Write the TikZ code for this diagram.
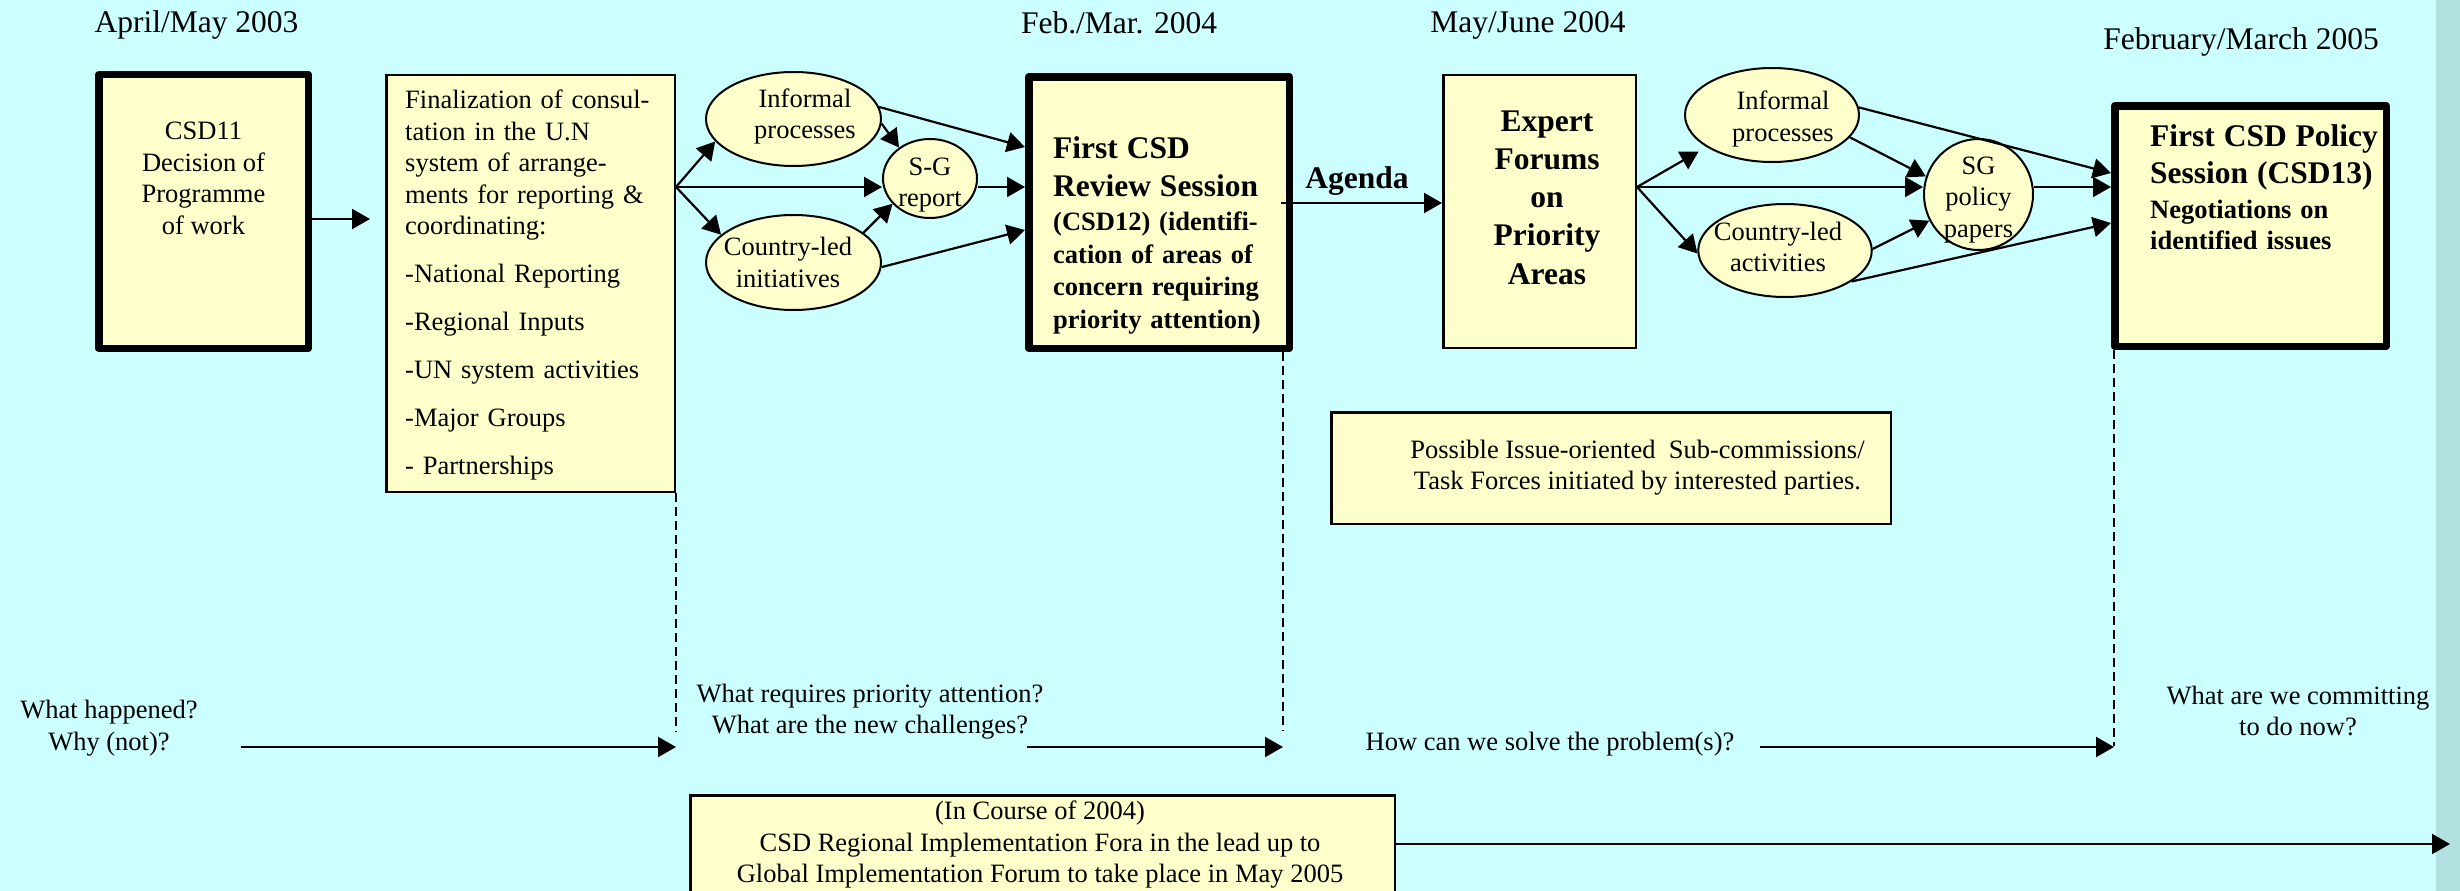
\documentclass[tikz,border=0pt]{standalone}
\usepackage{fontspec}
\setmainfont{Liberation Serif}
\usetikzlibrary{arrows.meta,shapes.geometric}
\definecolor{bgc}{HTML}{CCFFFF}
\definecolor{fillY}{HTML}{FFFFCC}
\definecolor{stripc}{HTML}{B3E0E0}
\begin{document}
\begin{tikzpicture}[x=1pt,y=-1pt,
  thinbox/.style={draw=black, line width=2.5pt, fill=fillY, rectangle, inner sep=0pt},
  thickbox/.style={draw=black, line width=7.5pt, fill=fillY, rectangle, inner sep=0pt, line join=round},
  ell/.style={draw=black, line width=2pt, fill=fillY, ellipse, inner sep=0pt},
  txt/.style={inner sep=0pt, align=center, font=\fontsize{26.5}{31.5}\selectfont},
  datelbl/.style={inner sep=0pt, anchor=base, font=\fontsize{31.5}{38}\selectfont},
  arr/.style={line width=2.2pt, -{Triangle[length=18pt,width=20pt]}},
  dsh/.style={line width=1.5pt, dash pattern=on 9pt off 5pt}]
\useasboundingbox (0,0) rectangle (2460,891);
\clip (0,0) rectangle (2460,891);
\fill[bgc] (0,0) rectangle (2460,891);
\fill[stripc] (2436,0) rectangle (2460,891);

% date labels
\node[datelbl] (d1) at (196.5,33) {April/May 2003};
\node[datelbl] (d2) at (1119,34) {Feb./Mar. 2004};
\node[datelbl] (d3) at (1528,33) {May/June 2004};
\node[datelbl] (d4) at (2241,50) {February/March 2005};

% boxes
\node[thickbox, minimum width=209.5pt, minimum height=273.5pt] (csd11) at (203.5,211.5) {};
\node[txt] (csd11t) at (203.5,178.5) {CSD11\\Decision of\\Programme\\of work};

\node[thinbox, minimum width=288.5pt, minimum height=416.5pt] (fin) at (530.5,283.5) {};
\node[txt, align=left, text width=262pt, anchor=west] (fint) at (405,285)
  {Finalization of consul-\\tation in the U.N\\system of arrange-\\ments for reporting \&\\coordinating:\\[16.5pt]-National Reporting\\[16.5pt]-Regional Inputs\\[16.5pt]-UN system activities\\[16.5pt]-Major Groups\\[16.5pt]- Partnerships};

\node[thickbox, minimum width=260.5pt, minimum height=271.5pt] (csd12) at (1159,212.5) {};
\node[txt, align=left, text width=236pt, anchor=west, font={\fontsize{26.5}{32.5}\selectfont\bfseries}] (csd12t) at (1053,235.5)
  {{\fontsize{31.5}{38}\selectfont First CSD\\Review Session\par}\vspace{1.5pt}{\fontsize{26.5}{32.5}\selectfont (CSD12) (identifi-\\cation of areas of\\concern requiring\\priority attention)\par}};

\node[thinbox, minimum width=192.5pt, minimum height=272.5pt] (expert) at (1539.5,211.5) {};
\node[txt, font={\fontsize{31.5}{38.3}\selectfont\bfseries}] (expertt) at (1547,197.5) {Expert\\Forums\\on\\Priority\\Areas};

\node[thickbox, minimum width=271.5pt, minimum height=240.5pt] (csd13) at (2250.5,226) {};
\node[txt, align=left, text width=236pt, anchor=west, font={\fontsize{26.5}{31}\selectfont\bfseries}] (csd13t) at (2150,187)
  {{\fontsize{31.5}{37}\selectfont First CSD Policy\\Session (CSD13)\par}\vspace{4pt}{\fontsize{26.5}{31}\selectfont Negotiations on\\identified issues\par}};

\node[thinbox, minimum width=559.5pt, minimum height=111.5pt] (poss) at (1611,468) {};
\node[txt] (posst) at (1637.5,467.5) {Possible Issue-oriented\ \ Sub-commissions/\\Task Forces initiated by interested parties.};

\node[thinbox, minimum width=704.5pt, minimum height=97.5pt] (bot) at (1042.5,844) {};
\node[txt] (bott) at (1040,845) {(In Course of 2004)\\CSD Regional Implementation Fora in the lead up to\\Global Implementation Forum to take place in May 2005};

% ellipses
\node[ell, minimum width=175pt, minimum height=94pt, label={[txt,xshift=11.5pt,yshift=2.5pt]center:Informal\\processes}] (inf1) at (793.5,119) {};
\node[ell, minimum width=175pt, minimum height=95pt, label={[txt,xshift=-5.5pt]center:Country-led\\initiatives}] (cl1) at (793.5,262.5) {};
\node[ell, minimum width=94pt, minimum height=79pt, label={[txt,yshift=-6.5pt]center:S-G\\report}] (sg1) at (930,178.5) {};
\node[ell, minimum width=174pt, minimum height=94pt, label={[txt,xshift=11pt,yshift=-4pt]center:Informal\\processes}] (inf2) at (1772,115) {};
\node[ell, minimum width=173.5pt, minimum height=93pt, label={[txt,xshift=-7pt,yshift=3.5pt]center:Country-led\\activities}] (cl2) at (1785,250.5) {};
\node[ell, minimum width=109pt, minimum height=111pt, label={[txt,yshift=-5.5pt]center:SG\\policy\\papers}] (sg2) at (1978.5,194.5) {};

\coordinate (br1) at (676,187);
\coordinate (br2) at (1637,187);

% left group arrows
\draw[arr, shorten >=15pt] ([yshift=-7.5pt]csd11.east) coordinate (c11) -- (c11 -| fin.west);
\draw[arr] (br1) -- (inf1.196);
\draw[arr] (br1) -- (br1 -| sg1.west);
\draw[arr] (br1) -- (cl1.159);
\draw[arr] (inf1.8) -- ([yshift=65.5pt]csd12.west);
\draw[arr] (inf1.357) -- (sg1.135);
\draw[arr] (br1 -| sg1.east) -- (br1 -| csd12.west);
\draw[arr] (cl1.23) -- (sg1.214);
\draw[arr] (cl1.357) -- ([yshift=-17.5pt]csd12.west);

% agenda
\draw[arr] ([xshift=-12pt,yshift=9.5pt]csd12.east) coordinate (ag) -- (ag -| expert.west);
\node[txt, anchor=base, font={\fontsize{31.5}{38}\selectfont\bfseries}] (agenda) at (1357,188) {Agenda};

% right group arrows
\draw[arr, shorten >=9pt] (br2) -- (inf2.206);
\draw[arr] (br2) -- (br2 -| sg2.west);
\draw[arr] (br2) -- (cl2.182);
\draw[arr] (inf2.5) -- ([yshift=53pt]csd13.west);
\draw[arr] (inf2.344) -- (sg2.161);
\draw[arr] (br2 -| sg2.east) -- (br2 -| csd13.west);
\draw[arr] (cl2.1) -- (sg2.208);
\draw[arr] (cl2.335) -- ([yshift=3pt]csd13.west);

% dashed lines
\coordinate (d1e) at (676,732);
\coordinate (d2e) at (1283,731);
\coordinate (d3e) at (2114,746);
\draw[dsh] (fin.south -| d1e) -- (d1e);
\draw[dsh] (csd12.south -| d2e) -- (d2e);
\draw[dsh] (csd13.south -| d3e) -- (d3e);

% questions
\node[txt] (q1) at (109,728) {What happened?\\Why (not)?};
\node[txt] (q2) at (870,711.5) {What requires priority attention?\\What are the new challenges?};
\node[txt, anchor=base] (q3) at (1550,750) {How can we solve the problem(s)?};
\node[txt] (q4) at (2298,711) {What are we committing\\to do now?};

\coordinate (a1s) at (241,747);
\coordinate (a2s) at (1027,747);
\coordinate (a3s) at (1760,747);
\draw[arr] (a1s) -- (a1s -| d1e);
\draw[arr] (a2s) -- (a2s -| d2e);
\draw[arr] (a3s) -- (a3s -| d3e);
\coordinate (bend) at (2450,844);
\draw[arr] (bot.east) -- (bend);
\end{tikzpicture}
\end{document}
